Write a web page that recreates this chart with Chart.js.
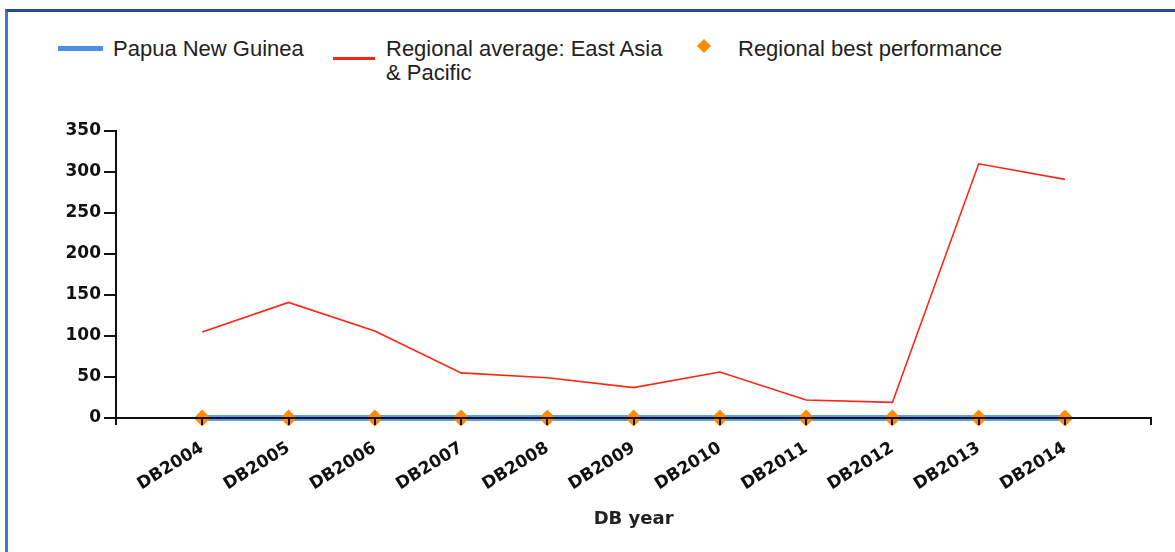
<!DOCTYPE html>
<html>
<head>
<meta charset="utf-8">
<script src="https://cdn.jsdelivr.net/npm/chart.js@4"></script>
<style>
  html, body { margin: 0; padding: 0; background: #fff; }
  #wrap { position: relative; width: 1175px; height: 552px; overflow: hidden; }
  #frame { position: absolute; left: 5px; top: 9px; width: 1200px; height: 600px;
           border-top: 3px solid #1f4f8f; border-left: 3px solid #3b79c2; box-sizing: border-box; }
  #legend { position: absolute; left: 0; top: 0; width: 1175px; height: 100px;
            font-family: "Liberation Sans", Arial, sans-serif; font-size: 22px; line-height: 24px; color: #222; }
  .sw { position: absolute; }
  .lt { position: absolute; top: 37px; white-space: nowrap; }
  canvas { position: absolute; left: 0; top: 0; }
</style>
</head>
<body>
<div id="wrap">
  <div id="frame"></div>
  <div id="legend"></div>
  <canvas id="chart" width="1175" height="552"></canvas>
</div>
<script>
// categories and series
const years = ['DB2004', 'DB2005', 'DB2006', 'DB2007', 'DB2008', 'DB2009', 'DB2010', 'DB2011', 'DB2012', 'DB2013', 'DB2014'];
const papuaNewGuinea = [0, 0, 0, 0, 0, 0, 0, 0, 0, 0, 0];
const regionalAverage = [105, 141, 106, 55, 49, 37, 56, 22, 19, 310, 291];
const regionalBest = [0, 0, 0, 0, 0, 0, 0, 0, 0, 0, 0];
const yTicks = [0, 50, 100, 150, 200, 250, 300, 350];

const seriesNames = ['Papua New Guinea', 'Regional average: East Asia\n& Pacific', 'Regional best performance'];

// the axis runs one empty slot past each end
const labels = [''].concat(years, ['']);
const pad = arr => [null].concat(arr, [null]);

// html legend (second label wraps onto two lines)
const legend = document.getElementById('legend');
legend.innerHTML =
  '<div class="sw" style="left:58px;top:46px;width:45px;height:5px;background:#4a90e6"></div>' +
  '<div class="lt" style="left:113px">' + seriesNames[0] + '</div>' +
  '<div class="sw" style="left:333px;top:57px;width:42px;height:3px;background:#ff2414"></div>' +
  '<div class="lt" style="left:386px">' + seriesNames[1].replace('\n', '<br>') + '</div>' +
  '<div class="sw" style="left:699px;top:41px;width:10px;height:10px;background:#ff8c00;transform:rotate(45deg)"></div>' +
  '<div class="lt" style="left:738px">' + seriesNames[2] + '</div>';

const tickFont = { family: 'DejaVu Sans', size: 17, weight: 'bold' };

new Chart(document.getElementById('chart'), {
  type: 'line',
  data: {
    labels: labels,
    datasets: [
      {
        label: seriesNames[0],
        data: pad(papuaNewGuinea),
        borderColor: '#5a9ced',
        borderWidth: 6,
        pointRadius: 0,
        clip: false,
        order: 3
      },
      {
        label: seriesNames[1],
        data: pad(regionalAverage),
        borderColor: '#ff2414',
        borderWidth: 1.6,
        pointRadius: 0,
        tension: 0,
        order: 2
      },
      {
        label: seriesNames[2],
        data: pad(regionalBest),
        showLine: false,
        pointStyle: 'rectRot',
        pointRadius: 8.5,
        pointBackgroundColor: '#ff8c00',
        pointBorderWidth: 0,
        clip: false,
        order: 1
      }
    ]
  },
  options: {
    responsive: false,
    animation: false,
    events: [],
    layout: { padding: { top: 131, right: 21, bottom: 19, left: 0 } },
    plugins: { legend: { display: false }, tooltip: { enabled: false } },
    scales: {
      x: {
        grid: { z: 1, drawOnChartArea: false, drawTicks: true, tickLength: 7, color: '#111', lineWidth: 2 },
        border: { z: 1, display: true, color: '#111', width: 2 },
        offset: false,
        ticks: {
          autoSkip: false,
          minRotation: 32,
          maxRotation: 32,
          padding: 13,
          color: '#111',
          font: tickFont
        },
        title: {
          display: true,
          text: 'DB year',
          color: '#222',
          font: { family: 'DejaVu Sans', size: 18, weight: 'bold' },
          padding: { top: 0, bottom: 3 }
        },
        afterFit: scale => { scale.height = 552 - 19 - 418; }
      },
      y: {
        min: 0,
        max: 350,
        afterBuildTicks: scale => { scale.ticks = yTicks.map(v => ({ value: v })); },
        grid: { z: 1, drawOnChartArea: false, drawTicks: true, tickLength: 12, color: '#111', lineWidth: 2 },
        border: { z: 1, display: true, color: '#111', width: 2 },
        ticks: { padding: 3, color: '#111', font: tickFont },
        afterFit: scale => { scale.width = 116; }
      }
    }
  }
});
</script>
</body>
</html>
